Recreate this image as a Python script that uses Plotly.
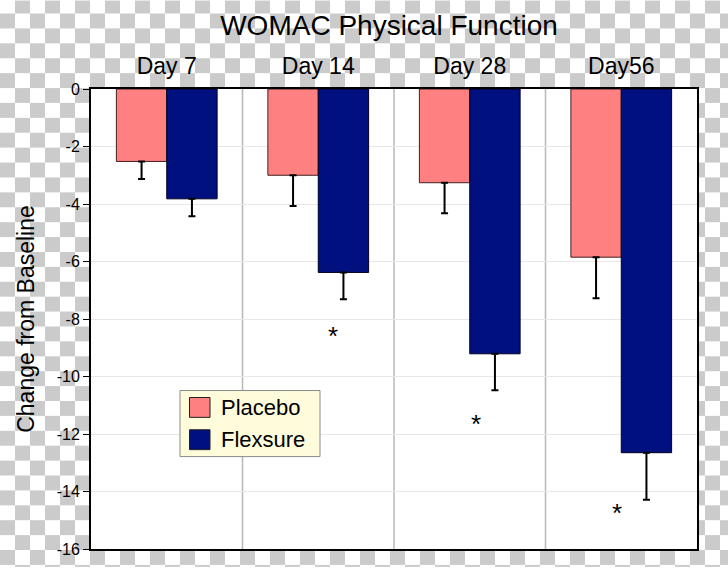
import base64
import struct
import zlib

import plotly.graph_objects as go

# ---------------- data ----------------
days = ["Day 7", "Day 14", "Day 28", "Day56"]
series_names = ["Placebo", "Flexsure"]
placebo = [-2.52, -3.00, -3.26, -5.85]
placebo_err = [0.61, 1.07, 1.06, 1.43]
flexsure = [-3.82, -6.38, -9.21, -12.65]
flexsure_err = [0.61, 0.93, 1.27, 1.64]
star_days = ["Day 14", "Day 28", "Day56"]
star_values = [-8.32, -11.37, -14.47]
y_tick_values = [0, -2, -4, -6, -8, -10, -12, -14, -16]
y_tick_labels = ["0", "-2", "-4", "-6", "-8", "-10", "-12", "-14", "-16"]

# ---------------- layout constants ----------------
W, H = 728, 570
L, R, T, B = 91, 31, 89, 18
PW, PH = W - L - R, H - T - B
FONT = "Liberation Sans, Arial, Helvetica, sans-serif"
PINK = "#ff8080"
NAVY = "#00107f"
star_xshift = [15, 6, -4]


def px_x(x):
    return (x - L) / PW


def px_y(y):
    return (H - B - y) / PH


# checkerboard (transparent-background look) with white plot area
def checker_png():
    rows = []
    grey = bytes([203, 203, 203])
    white = bytes([255, 255, 255])
    for y in range(H):
        r = (y + 2) // 15
        line = bytearray(b"\x00")
        for x in range(W):
            if L <= x <= W - R and T <= y <= H - B:
                line += white
            elif ((x // 15) + r) % 2 == 1:
                line += grey
            else:
                line += white
        rows.append(bytes(line))
    raw = b"".join(rows)

    def chunk(tag, data):
        c = struct.pack(">I", len(data)) + tag + data
        return c + struct.pack(">I", zlib.crc32(tag + data) & 0xFFFFFFFF)

    png = b"\x89PNG\r\n\x1a\n"
    png += chunk(b"IHDR", struct.pack(">IIBBBBB", W, H, 8, 2, 0, 0, 0))
    png += chunk(b"IDAT", zlib.compress(raw, 9))
    png += chunk(b"IEND", b"")
    return "data:image/png;base64," + base64.b64encode(png).decode()


fig = go.Figure()
fig.add_trace(go.Bar(
    x=days, y=placebo, name=series_names[0],
    marker=dict(color=PINK, line=dict(color="#402020", width=1)),
    error_y=dict(type="data", symmetric=False, array=[0] * len(days),
                 arrayminus=placebo_err, color="black", thickness=2, width=3.5),
    showlegend=False,
))
fig.add_trace(go.Bar(
    x=days, y=flexsure, name=series_names[1],
    marker=dict(color=NAVY, line=dict(color="#000020", width=1)),
    error_y=dict(type="data", symmetric=False, array=[0] * len(days),
                 arrayminus=flexsure_err, color="black", thickness=2, width=3.5),
    showlegend=False,
))

shapes = []
# group separators
for i in range(len(days) - 1):
    shapes.append(dict(type="line", xref="x", yref="paper", x0=i + 0.5, x1=i + 0.5,
                       y0=0, y1=1, line=dict(color="#b8b8b8", width=1.5), layer="below"))
# manual legend
shapes.append(dict(type="rect", xref="paper", yref="paper",
                   x0=px_x(180), x1=px_x(320), y0=px_y(459), y1=px_y(392.5),
                   fillcolor="#fffcdc", line=dict(color="#8a8a8a", width=1)))
legend_rows = [(series_names[0], PINK, 409.5), (series_names[1], NAVY, 442)]
annotations = []
for name, col, yc in legend_rows:
    shapes.append(dict(type="rect", xref="paper", yref="paper",
                       x0=px_x(189.5), x1=px_x(210), y0=px_y(yc + 10), y1=px_y(yc - 10),
                       fillcolor=col, line=dict(color="#202020", width=1)))
    annotations.append(dict(text=name, xref="paper", yref="paper", x=px_x(219), y=px_y(yc),
                            xanchor="left", yanchor="middle", showarrow=False,
                            font=dict(family=FONT, size=22, color="black")))

# significance stars
for d, v, dx in zip(star_days, star_values, star_xshift):
    annotations.append(dict(text="*", x=d, y=v, xref="x", yref="y", showarrow=False,
                            xshift=dx, yshift=-8, xanchor="center", yanchor="middle",
                            font=dict(family=FONT, size=26, color="black")))

fig.update_layout(
    width=W, height=H,
    margin=dict(l=L, r=R, t=T, b=B, pad=0),
    paper_bgcolor="white", plot_bgcolor="white",
    barmode="group", bargap=0.335, bargroupgap=0,
    title=dict(text="WOMAC Physical Function", x=389 / W, xanchor="center",
               y=1 - 25 / H, yanchor="middle", yref="container", xref="container",
               font=dict(family=FONT, size=28, color="black")),
    font=dict(family=FONT, color="black"),
    shapes=shapes, annotations=annotations,
    images=[dict(source=checker_png(), xref="paper", yref="paper",
                 x=-L / PW, y=1 + T / PH, sizex=W / PW, sizey=H / PH,
                 xanchor="left", yanchor="top", sizing="stretch", layer="below")],
)
fig.update_xaxes(type="category", side="top", showgrid=False, ticks="",
                 tickfont=dict(family=FONT, size=23, color="black"),
                 showline=True, mirror=True, linecolor="black", linewidth=2,
                 ticklabelstandoff=4, fixedrange=True)
fig.update_yaxes(range=[-16, 0], tickvals=y_tick_values, ticktext=y_tick_labels,
                 ticks="outside", ticklen=6, tickcolor="black", tickwidth=1,
                 tickfont=dict(family=FONT, size=16, color="black"),
                 showgrid=True, gridcolor="#e8e8e8", gridwidth=1, zeroline=False,
                 showline=True, mirror=True, linecolor="black", linewidth=2,
                 title=dict(text="Change from Baseline", standoff=16,
                            font=dict(family=FONT, size=23, color="black")),
                 fixedrange=True)

fig.write_html("out.html", config={"displayModeBar": False},
               post_script="document.body.style.margin='0';document.body.style.overflow='hidden';")
